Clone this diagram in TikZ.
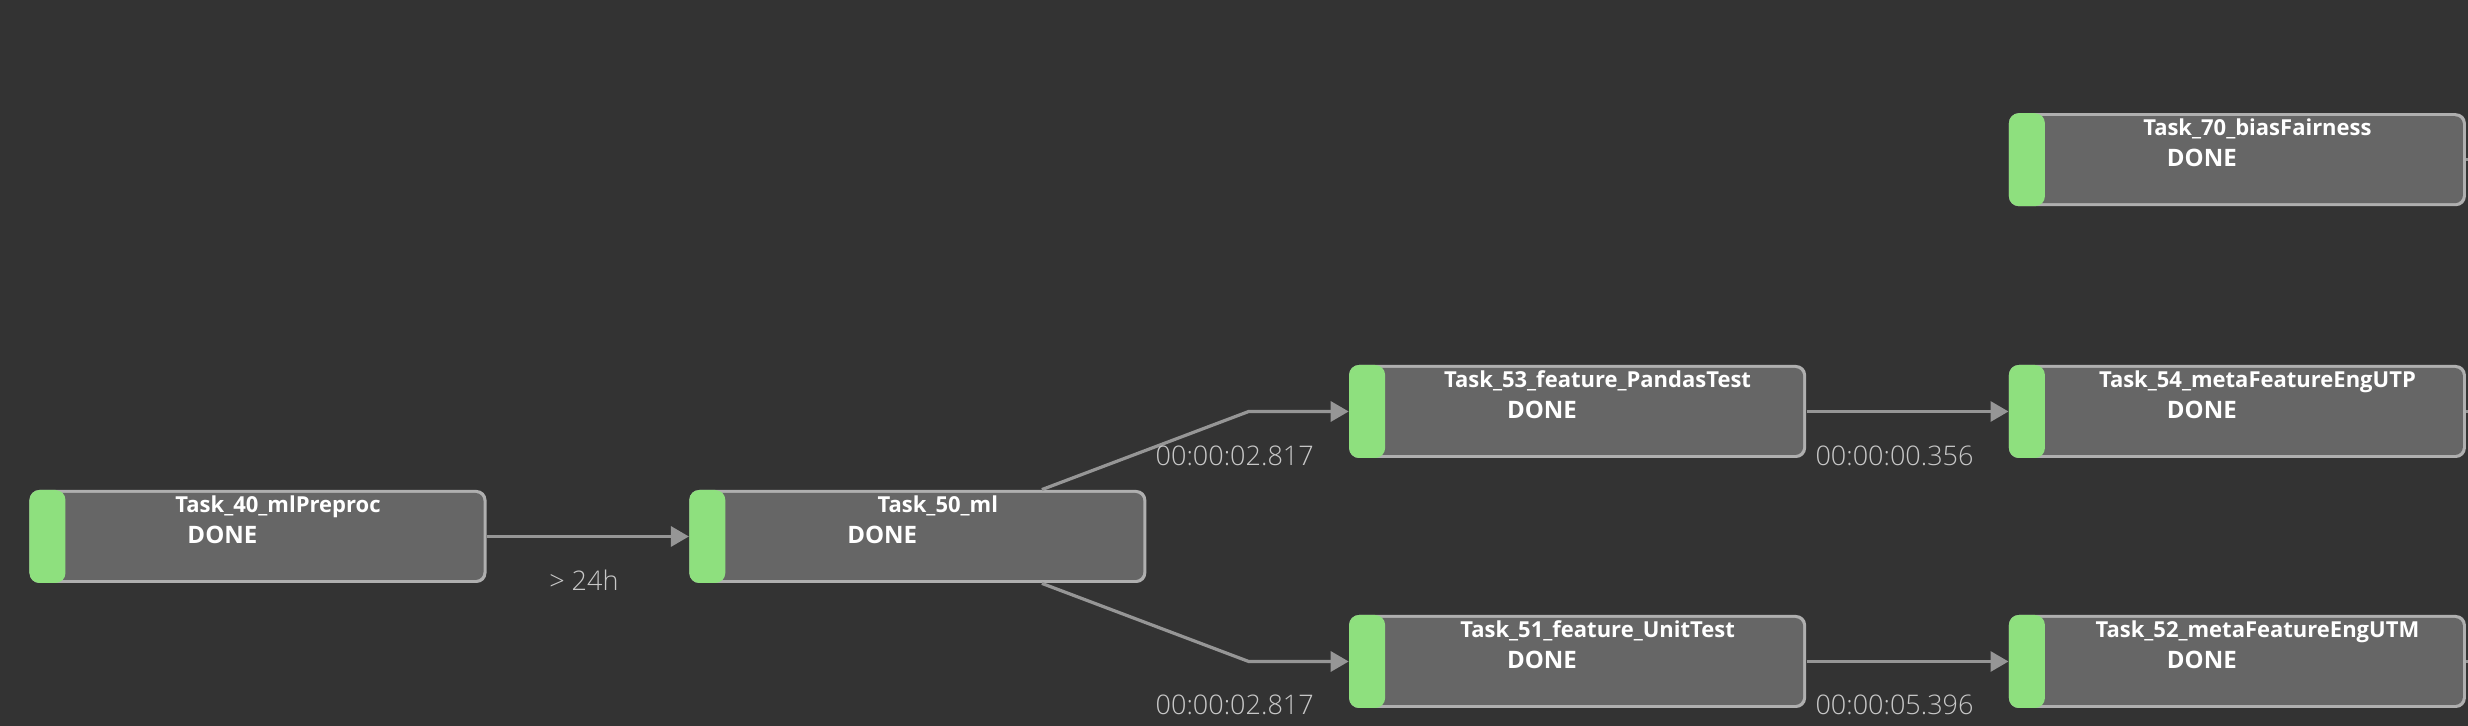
\documentclass[tikz,border=0pt]{standalone}
\usepackage{fontspec}
\setmainfont{Open Sans}
\newfontfamily\durfont{Open Sans Light}
\usetikzlibrary{arrows.meta, positioning, calc}
\definecolor{bgdark}{RGB}{51,51,51}
\definecolor{boxgray}{RGB}{102,102,102}
\definecolor{boxline}{RGB}{175,175,175}
\definecolor{donegreen}{RGB}{142,224,126}
\definecolor{linkgray}{RGB}{150,150,150}
\definecolor{durgray}{RGB}{200,200,200}

\begin{document}
\begin{tikzpicture}[
        node distance=101pt,
        task/.style={rectangle, rounded corners=5pt, fill=boxline, minimum width=228.5pt, minimum height=46.5pt, inner sep=0pt,
            path picture={
                \fill[boxgray, rounded corners=4pt] ([shift={(1.5pt,-1.5pt)}]path picture bounding box.north west) rectangle ([shift={(-1.5pt,1.5pt)}]path picture bounding box.south east);
                \fill[donegreen] (path picture bounding box.north west) rectangle ([xshift=18pt]path picture bounding box.south west);
            }},
        title/.style={anchor=base, inner sep=0pt, text=white, font=\bfseries\fontsize{11}{13}\selectfont},
        state/.style={anchor=base west, inner sep=0pt, text=white, font=\bfseries\fontsize{12}{14}\selectfont},
        link/.style={draw=linkgray, line width=1.6pt, -{Triangle[length=9pt, width=10pt]}},
        dur/.style={inner sep=0pt, text=durgray, font=\durfont\fontsize{13.5}{16}\selectfont}
    ]
        \fill[bgdark] (-129pt,-94.75pt) rectangle (1105pt,268.25pt);
        \useasboundingbox (-129pt,-94.75pt) rectangle (1105pt,268.25pt);

        \node[task] (t40) at (0,0) {};
        \node[task, right=of t40] (t50) {};
        \node[task, right=of t50, yshift=62.5pt] (t53) {};
        \node[task, right=of t50, yshift=-62.5pt] (t51) {};
        \node[task, right=of t53] (t54) {};
        \node[task, right=of t51] (t52) {};
        \node[task, above=79pt of t54] (t70) {};

        \foreach \n/\t in {t40/Task\_40\_mlPreproc, t50/Task\_50\_ml, t53/Task\_53\_feature\_PandasTest, t51/Task\_51\_feature\_UnitTest, t54/Task\_54\_metaFeatureEngUTP, t52/Task\_52\_metaFeatureEngUTM, t70/Task\_70\_biasFairness} {
            \node[title] (\n-ttl) at ([xshift=10pt, yshift=-11.5pt]\n.north) {\t};
            \node[state] (\n-st) at ([xshift=79pt, yshift=-27pt]\n.north west) {DONE};
        }

        \coordinate[left=50pt of t53] (k53);
        \coordinate[left=50pt of t51] (k51);
        \coordinate[right=2.25pt of t70] (o70);
        \coordinate[right=2.25pt of t54] (o54);
        \coordinate[right=2.25pt of t52] (o52);

        \draw[link] (t40) -- (t50);
        \draw[link] (t50) -- (k53) -- (t53);
        \draw[link] (t50) -- (k51) -- (t51);
        \draw[link] (t53) -- (t54);
        \draw[link] (t51) -- (t52);
        \draw[link, -] (t70) -- (o70);
        \draw[link, -] (t54) -- (o54);
        \draw[link, -] (t52) -- (o52);

        \node[dur] (d50) at ([shift={(-52.5pt,-22pt)}]t50.west) {> 24h};
        \node[dur] (d53) at ([shift={(-57pt,-22pt)}]t53.west) {00:00:02.817};
        \node[dur] (d51) at ([shift={(-57pt,-21.5pt)}]t51.west) {00:00:02.817};
        \node[dur] (d54) at ([shift={(-57pt,-22pt)}]t54.west) {00:00:00.356};
        \node[dur] (d52) at ([shift={(-57pt,-21.5pt)}]t52.west) {00:00:05.396};
    \end{tikzpicture}
\end{document}
